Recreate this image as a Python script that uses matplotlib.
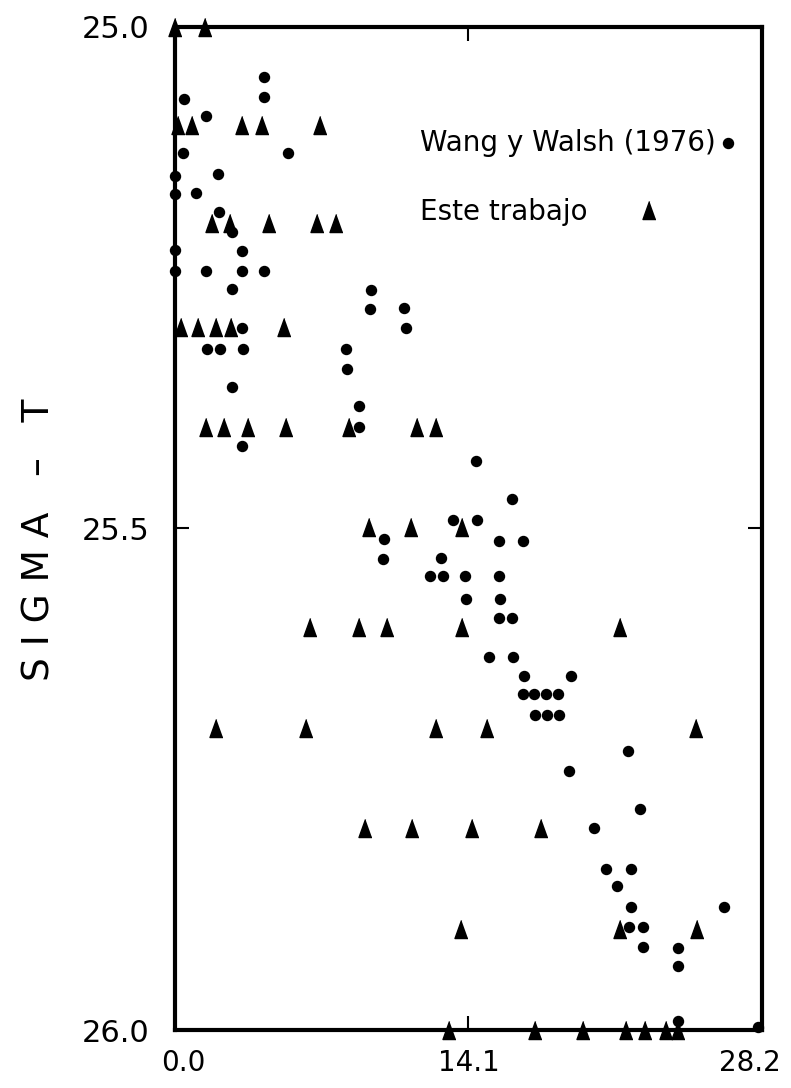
import matplotlib
matplotlib.use("Agg")
import matplotlib.pyplot as plt
import matplotlib.transforms as mtransforms

# Wang y Walsh (1976) - circles
wang_x = [4.28, 4.28, 0.43, 1.49, 0.38, 5.43, 0.0, 2.07, 0.0, 1.01,
          2.11, 2.74, 0.0, 3.22, 0.0, 1.49, 3.22, 4.28, 2.74, 9.42,
          9.37, 11.00, 11.10, 3.22, 1.54, 2.16, 3.27, 8.21, 8.26, 2.74,
          8.84, 8.84, 3.22, 14.46, 16.19, 13.36, 14.51, 10.04, 9.99, 12.78,
          15.56, 16.72, 12.25, 12.87, 13.93, 15.56, 13.98, 15.61, 15.56, 16.19,
          15.08, 16.24, 16.77, 19.02, 16.72, 17.25, 17.82, 18.40, 17.29, 17.87,
          18.45, 21.76, 18.93, 22.34, 20.13, 20.71, 21.91, 21.23, 21.91, 26.37,
          21.81, 22.48, 22.48, 24.16, 24.16, 24.16, 28.0]
wang_y = [25.050, 25.070, 25.072, 25.089, 25.126, 25.126, 25.149, 25.147, 25.167, 25.166,
          25.184, 25.204, 25.222, 25.223, 25.243, 25.243, 25.243, 25.243, 25.261, 25.262,
          25.281, 25.280, 25.300, 25.300, 25.321, 25.321, 25.321, 25.321, 25.341, 25.359,
          25.378, 25.399, 25.418, 25.433, 25.471, 25.492, 25.492, 25.510, 25.530, 25.529,
          25.512, 25.512, 25.547, 25.547, 25.547, 25.547, 25.570, 25.570, 25.589, 25.589,
          25.628, 25.628, 25.647, 25.647, 25.665, 25.665, 25.665, 25.665, 25.686, 25.686,
          25.686, 25.722, 25.742, 25.780, 25.799, 25.839, 25.839, 25.856, 25.877, 25.877,
          25.897, 25.897, 25.917, 25.918, 25.936, 25.991, 25.997]

# Este trabajo - triangles
este_x = [0.0, 1.44,
          0.14, 0.82, 3.22, 4.18, 6.97,
          1.78, 2.64, 4.52, 6.82, 7.73,
          0.29, 1.10, 1.97, 2.69, 5.24,
          1.49, 2.35, 3.51, 5.33, 8.36, 11.63, 12.54,
          9.32, 11.34, 13.79,
          6.49, 8.84, 10.18, 13.79, 21.38,
          1.97, 6.29, 12.54, 14.99, 25.03,
          9.13, 11.39, 14.27, 17.58,
          13.74, 21.38, 25.08,
          13.16, 17.29, 19.60, 21.67, 22.58, 23.59, 24.16]
este_y = [25.0, 25.0,
          25.098, 25.098, 25.098, 25.098, 25.098,
          25.195, 25.195, 25.195, 25.195, 25.195,
          25.299, 25.299, 25.299, 25.299, 25.299,
          25.399, 25.399, 25.399, 25.399, 25.399, 25.399, 25.399,
          25.499, 25.499, 25.499,
          25.598, 25.598, 25.598, 25.598, 25.598,
          25.699, 25.699, 25.699, 25.699, 25.699,
          25.799, 25.799, 25.799, 25.799,
          25.899, 25.899, 25.899,
          26.0, 26.0, 26.0, 26.0, 26.0, 26.0, 26.0]

x_ticks = [0.0, 14.1, 28.2]
x_ticklabels = ["0.0", "14.1", "28.2"]
y_ticks = [25.0, 25.5, 26.0]
y_ticklabels = ["25.0", "25.5", "26.0"]

tri = [(0, 1), (-0.72, -1), (0.72, -1)]
font = "DejaVu Sans"

fig = plt.figure(figsize=(7.91, 10.88), dpi=100)
ax = fig.add_axes([0.2212, 0.0533, 0.7421, 0.9219])

ax.plot(wang_x, wang_y, linestyle="none", marker="o", markersize=7.2,
        color="black", clip_on=False, zorder=3)
ax.plot(este_x, este_y, linestyle="none", marker=tri, markersize=13,
        color="black", clip_on=False, zorder=3)

ax.set_xlim(0, 28.2)
ax.set_ylim(26.0, 25.0)

for s in ax.spines.values():
    s.set_linewidth(3)

ax.set_xticks(x_ticks)
ax.set_xticklabels(x_ticklabels, fontsize=20, family=font)
ax.set_yticks(y_ticks)
ax.set_yticklabels(y_ticklabels, fontsize=22, family=font)
ax.tick_params(axis="both", direction="in", length=10, width=1.5,
               top=True, right=True)
ax.tick_params(axis="x", pad=14)
ax.tick_params(axis="y", pad=18)

# nudge the last x tick label slightly left so it stays inside the figure
lbls = ax.get_xticklabels()
lbls[-1].set_transform(lbls[-1].get_transform() +
                       mtransforms.ScaledTranslation(-12 / 100, 0, fig.dpi_scale_trans))
lbls[0].set_transform(lbls[0].get_transform() +
                      mtransforms.ScaledTranslation(8 / 100, 0, fig.dpi_scale_trans))

fig.text(40 / 791, 1 - 540 / 1088, "S I G M A   –   T", rotation=90,
         fontsize=27, ha="center", va="center", family=font)

# legend as text + markers
ax.text(0.418, 0.884, "Wang y Walsh (1976)", transform=ax.transAxes,
        fontsize=20, va="center", ha="left", family=font)
ax.plot([0.942], [0.884], transform=ax.transAxes, marker="o", markersize=7.2,
        color="black", linestyle="none")
ax.text(0.418, 0.816, "Este trabajo", transform=ax.transAxes,
        fontsize=20, va="center", ha="left", family=font)
ax.plot([0.808], [0.818], transform=ax.transAxes, marker=tri, markersize=13,
        color="black", linestyle="none")

fig.savefig("out.png", dpi=100)
